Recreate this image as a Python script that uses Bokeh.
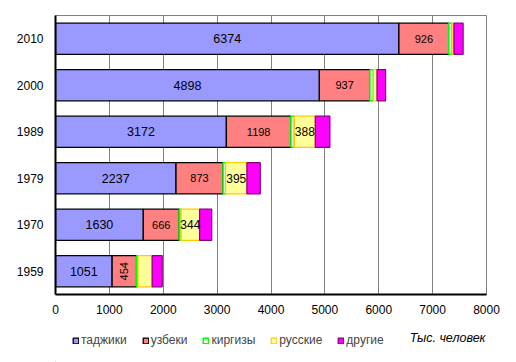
import math
from bokeh.plotting import figure
from bokeh.layouts import column
from bokeh.models import (ColumnDataSource, FactorRange, Range1d, FixedTicker,
                          Legend, LegendItem, Label)
from bokeh.core.properties import value
from bokeh.embed import file_html
from bokeh.resources import INLINE

years = ["1959", "1970", "1979", "1989", "2000", "2010"]
tajik = [1051, 1630, 2237, 3172, 4898, 6374]
uzbek = [454, 666, 873, 1198, 937, 926]
kyrgyz = [26, 35, 48, 64, 65, 61]
russian = [263, 344, 395, 388, 68, 35]
other = [187, 225, 248, 271, 159, 170]
series_names = ["таджики", "узбеки", "киргизы", "русские", "другие"]
russian_labelled = ["1970", "1979", "1989"]
x_ticks = [0, 1000, 2000, 3000, 4000, 5000, 6000, 7000, 8000]
unit_label = "Тыс. человек"

FONT = "Liberation Sans"
series = [tajik, uzbek, kyrgyz, russian, other]

p = figure(width=510, height=320, y_range=FactorRange(*years),
           x_range=Range1d(0, 8000), output_backend="svg",
           toolbar_location=None, min_border_left=55, min_border_right=24,
           min_border_top=15, min_border_bottom=26)

fills = ["#9999FF", "#FF8080", "#E8FFE8", "#FFFF99", "#FF00FF"]
lines = ["#000000", "#000000", "#00FF00", "#FFCC00", "#800080"]
widths = [1.3, 1.3, 1.5, 1.2, 1.2]

left = [0] * len(years)
for i, vals in enumerate(series):
    right = [l + v for l, v in zip(left, vals)]
    src = ColumnDataSource(dict(y=years, left=left, right=right))
    p.hbar(y="y", left="left", right="right", height=0.67, source=src,
           fill_color=fills[i], line_color=lines[i], line_width=widths[i])
    left = right

# value labels
taj_x = [t / 2 for t in tajik]
p.text(x=taj_x, y=years, text=[str(v) for v in tajik], text_align="center",
       text_baseline="middle", text_font=value(FONT), text_font_size="12.5px",
       text_color="#000000")

uz_x = [t + u / 2 for t, u in zip(tajik, uzbek)]
uz_angle = [math.pi / 2 if y == "1959" else 0 for y in years]
p.text(x=uz_x, y=years, text=[str(v) for v in uzbek], angle=uz_angle,
       text_align="center", text_baseline="middle", text_font=value(FONT),
       text_font_size="11px", text_color="#000000")

ru_x, ru_y, ru_t = [], [], []
for y, t, u, kg, r in zip(years, tajik, uzbek, kyrgyz, russian):
    if y in russian_labelled:
        ru_x.append(t + u + kg + r / 2)
        ru_y.append(y)
        ru_t.append(str(r))
p.text(x=ru_x, y=ru_y, text=ru_t, text_align="center", text_baseline="middle",
       text_font=value(FONT), text_font_size="12px", text_color="#000000")

# axes
p.xaxis.ticker = FixedTicker(ticks=x_ticks)
for ax in (p.xaxis, p.yaxis):
    ax.major_label_text_font = FONT
    ax.major_label_text_font_size = "12px"
    ax.major_label_text_color = "#000000"
    ax.major_tick_line_color = None
    ax.minor_tick_line_color = None
    ax.axis_line_color = "#000000"
    ax.axis_line_width = 2
p.xaxis.major_label_standoff = 4
p.yaxis.major_label_standoff = 6

p.ygrid.grid_line_color = None
p.xgrid.grid_line_color = "#808080"
p.xgrid.grid_line_width = 1
p.outline_line_color = "#808080"
p.outline_line_width = 1
p.y_range.range_padding = 0
p.y_range.factor_padding = 0

# legend strip below the chart (its frame is aligned with the chart frame)
q = figure(width=510, height=42, x_range=Range1d(10, 11), y_range=Range1d(10, 11),
           output_backend="svg", toolbar_location=None, x_axis_type=None,
           y_axis_type=None, min_border=0, outline_line_color=None)
q.grid.visible = False
items = []
for i, name in enumerate(series_names):
    # legend proxy: a zero-size bar lying outside the strip's visible range
    proxy = ColumnDataSource(dict(y=[0], left=[0], right=[0]))
    r = q.hbar(y="y", left="left", right="right", height=0, source=proxy,
               fill_color=fills[i], line_color=lines[i], line_width=widths[i])
    items.append(LegendItem(label=name, renderers=[r]))

legend = Legend(items=items, orientation="horizontal", location=(17, 15),
                label_text_font=FONT, label_text_font_size="12px",
                glyph_width=7, glyph_height=7, label_standoff=2, spacing=15,
                padding=0, margin=0, border_line_color=None,
                background_fill_alpha=0, label_height=14)
q.add_layout(legend, "center")

q.add_layout(Label(x=430, y=25, x_units="screen", y_units="screen",
                   text=unit_label, text_align="right", text_baseline="middle",
                   text_font=FONT, text_font_size="12.5px",
                   text_font_style="italic", text_color="#000000"))

open("out.html", "w").write(file_html(column(p, q, spacing=0), INLINE))
